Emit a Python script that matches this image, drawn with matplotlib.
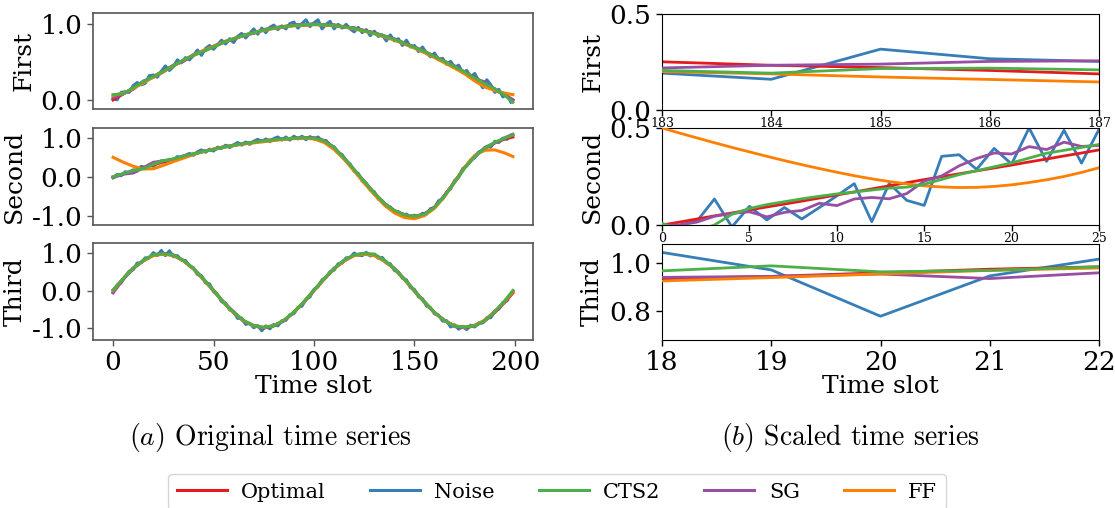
import matplotlib
matplotlib.use("Agg")
import matplotlib.pyplot as plt
import numpy as np

plt.rcParams['font.family'] = ['DejaVu Serif']
plt.rcParams['axes.unicode_minus'] = False
plt.rcParams['mathtext.fontset'] = 'cm'

# ---------------- data: left panels (original time series) ----------------
t_smooth = list(range(0, 200, 5)) + [199]
t_noise = list(range(0, 200, 2))

first_optimal = [0.000, 0.079, 0.157, 0.234, 0.309, 0.383, 0.454, 0.522, 0.588, 0.649,
                 0.707, 0.760, 0.809, 0.853, 0.891, 0.924, 0.951, 0.972, 0.988, 0.997,
                 1.000, 0.996, 0.986, 0.970, 0.948, 0.920, 0.886, 0.847, 0.802, 0.753,
                 0.699, 0.640, 0.578, 0.511, 0.442, 0.370, 0.295, 0.219, 0.142, 0.063, 0.000]
first_cts2 = [0.07, 0.08, 0.16, 0.24, 0.31, 0.38, 0.45, 0.53, 0.59, 0.645,
              0.70, 0.76, 0.81, 0.855, 0.89, 0.925, 0.95, 0.97, 0.985, 0.995,
              1.00, 0.995, 0.985, 0.965, 0.945, 0.915, 0.88, 0.845, 0.80, 0.75,
              0.695, 0.64, 0.575, 0.51, 0.44, 0.37, 0.29, 0.216, 0.15, 0.06, -0.03]
first_sg = [0.03, 0.08, 0.14, 0.25, 0.30, 0.37, 0.46, 0.51, 0.60, 0.64,
            0.71, 0.77, 0.80, 0.86, 0.88, 0.93, 0.96, 0.96, 1.00, 0.985,
            1.01, 0.985, 0.995, 0.96, 0.955, 0.91, 0.89, 0.835, 0.81, 0.74,
            0.70, 0.63, 0.58, 0.50, 0.45, 0.36, 0.28, 0.239, 0.13, 0.07, 0.00]
first_ff = [0.06, 0.09, 0.15, 0.225, 0.30, 0.375, 0.45, 0.525, 0.595, 0.655,
            0.71, 0.765, 0.81, 0.85, 0.89, 0.92, 0.945, 0.965, 0.98, 0.99,
            0.995, 0.99, 0.98, 0.965, 0.94, 0.91, 0.875, 0.835, 0.79, 0.74,
            0.685, 0.625, 0.56, 0.49, 0.42, 0.345, 0.25, 0.172, 0.125, 0.09, 0.07]
first_noise = [0.02, 0.00, 0.10, 0.11, 0.10, 0.19, 0.23, 0.20, 0.22, 0.32,
               0.33, 0.30, 0.38, 0.45, 0.39, 0.44, 0.53, 0.49, 0.56, 0.53,
               0.59, 0.66, 0.59, 0.68, 0.72, 0.67, 0.73, 0.79, 0.74, 0.81,
               0.76, 0.84, 0.88, 0.82, 0.88, 0.94, 0.87, 0.95, 0.89, 0.96,
               0.99, 0.93, 0.98, 0.94, 1.01, 1.03, 0.95, 1.01, 1.06, 0.97,
               1.02, 1.06, 0.94, 1.00, 1.04, 0.94, 1.00, 0.95, 1.00, 0.94,
               0.90, 0.96, 0.89, 0.93, 0.85, 0.91, 0.84, 0.86, 0.78, 0.86,
               0.78, 0.81, 0.72, 0.79, 0.70, 0.72, 0.64, 0.70, 0.62, 0.57,
               0.62, 0.53, 0.55, 0.47, 0.51, 0.43, 0.46, 0.36, 0.39, 0.31,
               0.35, 0.25, 0.16, 0.267, 0.20, 0.10, 0.14, 0.04, 0.07, -0.03]

second_optimal = [0.000, 0.078, 0.156, 0.233, 0.309, 0.383, 0.454, 0.522, 0.588, 0.649,
                  0.707, 0.760, 0.809, 0.853, 0.891, 0.924, 0.951, 0.972, 0.988, 0.997,
                  1.000, 0.930, 0.750, 0.470, 0.180, -0.120, -0.410, -0.680, -0.860, -0.970,
                  -1.010, -0.950, -0.770, -0.480, -0.120, 0.240, 0.530, 0.730, 0.870, 0.970, 1.020]
second_cts2 = [0.00, 0.085, 0.16, 0.21, 0.32, 0.415, 0.46, 0.53, 0.59, 0.65,
               0.70, 0.76, 0.81, 0.85, 0.89, 0.92, 0.95, 0.97, 0.99, 1.00,
               0.99, 0.92, 0.75, 0.48, 0.19, -0.12, -0.41, -0.68, -0.86, -0.97,
               -1.01, -0.96, -0.78, -0.49, -0.13, 0.23, 0.52, 0.73, 0.88, 0.99, 1.07]
second_sg = [-0.02, 0.07, 0.10, 0.23, 0.37, 0.41, 0.44, 0.54, 0.58, 0.66,
             0.70, 0.77, 0.80, 0.86, 0.88, 0.93, 0.94, 0.98, 0.98, 1.01,
             0.98, 0.93, 0.74, 0.49, 0.17, -0.11, -0.43, -0.67, -0.88, -0.96,
             -1.03, -0.94, -0.79, -0.47, -0.14, 0.24, 0.51, 0.75, 0.87, 1.00, 1.09]
second_ff = [0.50, 0.377, 0.272, 0.202, 0.207, 0.295, 0.39, 0.48, 0.57, 0.65,
             0.71, 0.76, 0.80, 0.84, 0.87, 0.90, 0.93, 0.96, 0.98, 0.99,
             0.97, 0.88, 0.70, 0.45, 0.15, -0.16, -0.45, -0.72, -0.92, -1.04,
             -1.07, -0.99, -0.80, -0.50, -0.13, 0.25, 0.55, 0.68, 0.69, 0.61, 0.52]
second_noise = [-0.02, 0.06, 0.03, 0.13, 0.11, 0.18, 0.15, 0.27, 0.24, 0.31,
                0.27, 0.36, 0.41, 0.37, 0.45, 0.43, 0.52, 0.48, 0.55, 0.60,
                0.55, 0.64, 0.69, 0.63, 0.71, 0.66, 0.76, 0.73, 0.81, 0.75,
                0.82, 0.88, 0.81, 0.89, 0.83, 0.91, 0.96, 0.90, 0.97, 0.90,
                0.98, 1.02, 0.94, 1.02, 0.94, 1.04, 0.97, 1.04, 0.95, 1.03,
                0.97, 1.02, 0.92, 0.93, 0.81, 0.77, 0.62, 0.57, 0.40, 0.33,
                0.14, 0.09, -0.11, -0.16, -0.34, -0.38, -0.57, -0.61, -0.76, -0.77,
                -0.89, -0.89, -1.01, -0.95, -1.04, -0.98, -1.04, -0.93, -0.95, -0.81,
                -0.79, -0.61, -0.57, -0.39, -0.31, -0.09, -0.01, 0.21, 0.28, 0.44,
                0.49, 0.64, 0.66, 0.78, 0.76, 0.91, 0.88, 0.99, 0.96, 1.06]

third_optimal = [0.000, 0.309, 0.588, 0.809, 0.951, 1.000, 0.951, 0.809, 0.588, 0.309,
                 0.000, -0.309, -0.588, -0.809, -0.951, -1.000, -0.951, -0.809, -0.588, -0.309,
                 0.000, 0.309, 0.588, 0.809, 0.951, 1.000, 0.951, 0.809, 0.588, 0.309,
                 0.000, -0.309, -0.588, -0.809, -0.951, -1.000, -0.951, -0.809, -0.588, -0.309, -0.063]
third_cts2 = [0.02, 0.32, 0.60, 0.81, 0.965, 0.99, 0.955, 0.81, 0.59, 0.31,
              0.00, -0.31, -0.59, -0.81, -0.95, -0.99, -0.95, -0.80, -0.58, -0.30,
              0.01, 0.32, 0.60, 0.82, 0.96, 1.00, 0.98, 0.82, 0.59, 0.31,
              0.00, -0.31, -0.59, -0.81, -0.96, -0.98, -0.95, -0.81, -0.57, -0.27, 0.00]
third_sg = [-0.06, 0.30, 0.61, 0.79, 0.97, 0.99, 0.96, 0.80, 0.60, 0.29,
            0.01, -0.32, -0.57, -0.83, -0.94, -1.01, -0.94, -0.82, -0.58, -0.32,
            0.02, 0.30, 0.60, 0.79, 0.96, 0.99, 0.96, 0.79, 0.60, 0.30,
            -0.02, -0.30, -0.60, -0.80, -0.97, -0.99, -0.93, -0.82, -0.56, -0.31, -0.01]
third_ff = [0.00, 0.33, 0.60, 0.80, 0.94, 0.98, 0.94, 0.80, 0.58, 0.30,
            -0.01, -0.32, -0.60, -0.81, -0.95, -0.99, -0.94, -0.80, -0.58, -0.30,
            0.00, 0.31, 0.59, 0.80, 0.94, 0.98, 0.94, 0.80, 0.58, 0.30,
            -0.01, -0.32, -0.60, -0.81, -0.95, -0.98, -0.94, -0.79, -0.56, -0.29, -0.03]
third_noise = [-0.05, 0.15, 0.21, 0.38, 0.52, 0.56, 0.74, 0.75, 0.88, 0.88,
               1.02, 0.94, 1.08, 0.94, 1.07, 0.91, 0.94, 0.82, 0.81, 0.66,
               0.61, 0.43, 0.40, 0.21, 0.18, -0.03, -0.11, -0.30, -0.34, -0.52,
               -0.57, -0.75, -0.74, -0.91, -0.88, -1.00, -0.94, -1.08, -0.95, -1.03,
               -0.91, -0.95, -0.81, -0.80, -0.65, -0.62, -0.45, -0.42, -0.23, -0.17,
               0.03, 0.10, 0.29, 0.35, 0.51, 0.55, 0.72, 0.74, 0.88, 0.89,
               1.01, 0.95, 0.94, 1.03, 0.93, 0.98, 0.87, 0.89, 0.74, 0.72,
               0.54, 0.50, 0.33, 0.29, 0.08, 0.03, -0.17, -0.22, -0.42, -0.46,
               -0.63, -0.66, -0.82, -0.81, -0.98, -0.92, -1.04, -0.96, -1.05, -0.93,
               -0.98, -0.87, -0.87, -0.73, -0.73, -0.55, -0.50, -0.32, -0.28, -0.09]

# ---------------- data: right panels (scaled time series) ----------------
r1_t = [183, 184, 185, 186, 187]
r1_optimal = [0.251, 0.233, 0.221, 0.206, 0.188]
r1_noise = [0.192, 0.160, 0.317, 0.267, 0.253]
r1_cts2 = [0.206, 0.192, 0.216, 0.218, 0.209]
r1_sg = [0.219, 0.233, 0.239, 0.253, 0.256]
r1_ff = [0.200, 0.188, 0.172, 0.159, 0.146]

r2_t = list(range(26))
r2_optimal = [0.0, 0.015, 0.031, 0.047, 0.062, 0.078, 0.093, 0.108, 0.123, 0.139,
              0.155, 0.170, 0.186, 0.202, 0.218, 0.234, 0.249, 0.264, 0.279, 0.294,
              0.309, 0.325, 0.340, 0.356, 0.371, 0.387]
r2_noise = [-0.02, 0.0, 0.02, 0.134, -0.01, 0.096, 0.026, 0.09, 0.031, 0.09,
            0.15, 0.213, 0.017, 0.214, 0.127, 0.101, 0.354, 0.362, 0.287, 0.395,
            0.314, 0.50, 0.328, 0.488, 0.319, 0.493]
r2_cts2 = [0.01, -0.03, -0.03, 0.0, 0.055, 0.085, 0.105, 0.12, 0.135, 0.148,
           0.16, 0.17, 0.18, 0.19, 0.195, 0.21, 0.235, 0.26, 0.28, 0.30,
           0.32, 0.345, 0.37, 0.385, 0.40, 0.415]
r2_sg = [0.0, 0.0, 0.015, 0.045, 0.06, 0.068, 0.042, 0.065, 0.075, 0.112,
         0.10, 0.134, 0.142, 0.135, 0.162, 0.226, 0.253, 0.305, 0.343, 0.371,
         0.366, 0.404, 0.389, 0.427, 0.405, 0.41]
r2_ff = [0.500, 0.474, 0.449, 0.424, 0.400, 0.377, 0.354, 0.332, 0.311, 0.291,
         0.272, 0.254, 0.238, 0.224, 0.212, 0.202, 0.196, 0.193, 0.194, 0.199,
         0.207, 0.219, 0.233, 0.250, 0.271, 0.295]

r3_t = [18, 19, 20, 21, 22]
r3_optimal = [0.935, 0.945, 0.960, 0.975, 0.985]
r3_noise = [1.045, 0.972, 0.779, 0.947, 1.017]
r3_cts2 = [0.968, 0.989, 0.964, 0.970, 0.985]
r3_sg = [0.941, 0.945, 0.955, 0.936, 0.960]
r3_ff = [0.926, 0.940, 0.955, 0.970, 0.980]

series_names = ['Optimal', 'Noise', 'CTS2', 'SG', 'FF']
colors = {'Optimal': '#e41a1c', 'Noise': '#377eb8', 'CTS2': '#4daf4a',
          'SG': '#984ea3', 'FF': '#ff7f00'}
zorders = {'Optimal': 2, 'Noise': 1, 'CTS2': 5, 'SG': 3, 'FF': 4}

left_data = [
    ('First', first_optimal, first_noise, first_cts2, first_sg, first_ff, (-0.12, 1.15), [0.0, 1.0]),
    ('Second', second_optimal, second_noise, second_cts2, second_sg, second_ff, (-1.23, 1.25), [-1.0, 0.0, 1.0]),
    ('Third', third_optimal, third_noise, third_cts2, third_sg, third_ff, (-1.33, 1.28), [-1.0, 0.0, 1.0]),
]
right_data = [
    ('First', r1_t, r1_optimal, r1_noise, r1_cts2, r1_sg, r1_ff, (183, 187), (0, 0.5), [0.0, 0.5]),
    ('Second', r2_t, r2_optimal, r2_noise, r2_cts2, r2_sg, r2_ff, (0, 25), (0, 0.5), [0.0, 0.5]),
    ('Third', r3_t, r3_optimal, r3_noise, r3_cts2, r3_sg, r3_ff, (18, 22), (0.68, 1.08), [0.8, 1.0]),
]

fig = plt.figure(figsize=(11.15, 5.08), dpi=100)
W, H = 1115.0, 508.0

rows_left = [(13, 109), (128, 225), (243, 340)]
rows_right = [(14, 110), (128, 225), (244, 340)]
TICK = 19
LAB = 18
LW = 2.0
gray = '#555555'

handles = []
for i, (name, opt, noi, cts, sg, ff, ylim, yt) in enumerate(left_data):
    top, bot = rows_left[i]
    ax = fig.add_axes([93 / W, 1 - bot / H, (533 - 93) / W, (bot - top) / H])
    vals = {'Optimal': (t_smooth, opt), 'Noise': (t_noise, noi), 'CTS2': (t_smooth, cts),
            'SG': (t_smooth, sg), 'FF': (t_smooth, ff)}
    for s in series_names:
        x, y = vals[s]
        ln, = ax.plot(x, y, color=colors[s], lw=2.2, zorder=zorders[s], label=s)
        if i == 0:
            handles.append(ln)
    ax.set_xlim(-10, 209)
    ax.set_ylim(*ylim)
    ax.set_yticks(yt)
    ax.set_yticklabels(['%.1f' % v for v in yt], fontsize=TICK)
    ax.set_ylabel(name, fontsize=LAB)
    for sp in ax.spines.values():
        sp.set_color(gray)
        sp.set_linewidth(1.2)
    ax.tick_params(colors=gray, labelcolor='black', length=4, width=1)
    if i < 2:
        ax.set_xticks([])
    else:
        ax.set_xticks([0, 50, 100, 150, 200])
        ax.tick_params(axis='x', labelsize=TICK)
        ax.set_xlabel('Time slot', fontsize=LAB, labelpad=0)

for i, (name, t, opt, noi, cts, sg, ff, xlim, ylim, yt) in enumerate(right_data):
    top, bot = rows_right[i]
    ax = fig.add_axes([662 / W, 1 - bot / H, (1099 - 662) / W, (bot - top) / H])
    vals = {'Optimal': opt, 'Noise': noi, 'CTS2': cts, 'SG': sg, 'FF': ff}
    for s in series_names:
        ax.plot(t, vals[s], color=colors[s], lw=LW, zorder=zorders[s])
    ax.set_xlim(*xlim)
    ax.set_ylim(*ylim)
    ax.set_yticks(yt)
    ax.set_yticklabels(['%.1f' % v for v in yt], fontsize=TICK)
    ax.set_ylabel(name, fontsize=LAB)
    ax.tick_params(length=4, width=1)
    if i == 0:
        ax.set_xticks(r1_t)
        ax.tick_params(axis='x', labelsize=9, pad=1)
    elif i == 1:
        ax.set_xticks([0, 5, 10, 15, 20, 25])
        ax.tick_params(axis='x', labelsize=9, pad=1)
    else:
        ax.set_xticks(r3_t)
        ax.tick_params(axis='x', labelsize=TICK)
        ax.set_xlabel('Time slot', fontsize=LAB, labelpad=0)

fig.text(270 / W, 1 - 437 / H, r'$(a)$ Original time series', fontsize=20,
         family='cmr10', ha='center', va='center')
fig.text(850 / W, 1 - 437 / H, r'$(b)$ Scaled time series', fontsize=20,
         family='cmr10', ha='center', va='center')

leg = fig.legend(handles, series_names, loc='center', ncol=5,
                 bbox_to_anchor=(557 / W, 1 - 492 / H), fontsize=15,
                 handlelength=2.4, handletextpad=0.7, columnspacing=2.1,
                 frameon=True, fancybox=True, borderpad=0.4)
leg.get_frame().set_edgecolor('#cccccc')

fig.savefig('out.png', dpi=100)
